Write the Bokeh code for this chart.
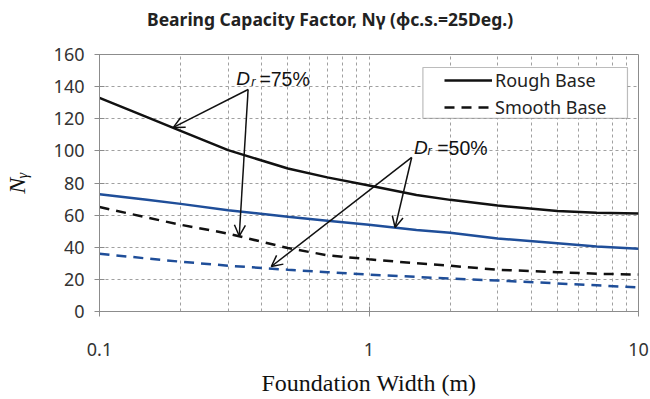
from bokeh.plotting import figure
from bokeh.layouts import column
from bokeh.models import (FixedTicker, Range1d, Legend, LegendItem, Label, Arrow,
                          OpenHead, BoxAnnotation, Div)
from bokeh.embed import file_html
from bokeh.resources import INLINE

# ---- data ----
width_m = [0.1, 0.15, 0.2, 0.3, 0.5, 0.7, 1, 1.5, 2, 3, 5, 7, 10]
rough_dr75 = [133, 121, 112.5, 100.5, 89, 83.5, 78.5, 72.5, 69.5, 66, 62.5, 61.5, 61]
rough_dr50 = [73, 69.5, 67, 63, 59, 56.5, 54, 50.8, 49, 45.5, 42.5, 40.5, 39]
smooth_dr75 = [65, 58.5, 54, 48.5, 39.5, 35, 32.5, 30, 28.5, 26, 24.5, 23.5, 23]
smooth_dr50 = [36, 33, 31, 28.5, 26, 24.5, 23, 21.5, 20.5, 19.3, 17.5, 16.3, 15]

x_ticks = [0.1, 1, 10]
x_tick_labels = ["0.1", "1", "10"]
x_minor = [0.2, 0.3, 0.4, 0.5, 0.6, 0.7, 0.8, 0.9, 2, 3, 4, 5, 6, 7, 8, 9]
y_ticks = [0, 20, 40, 60, 80, 100, 120, 140, 160]

title_text = "Bearing Capacity Factor, N\u03b3 (\u03d5c.s.=25Deg.)"
x_label = "Foundation Width (m)"
y_label = "N\u1d67"

BLACK = "#111111"
BLUE = "#1f4e99"
GRID = "#a0a0a0"
AXIS = "#8c8c8c"

title_div = Div(
    text=('<div style="font-family:\'Noto Sans\';font-weight:bold;font-size:17.5px;'
          'color:#222222;line-height:38px;height:38px;padding-left:147px;'
          'white-space:nowrap;">' + title_text + '</div>'),
    width=650, height=38, margin=0)

p = figure(width=650, height=361, x_axis_type="log",
           x_range=Range1d(0.1, 10), y_range=Range1d(0, 160),
           output_backend="svg", toolbar_location=None,
           min_border_left=97, min_border_right=12,
           min_border_top=16, min_border_bottom=88)
p.margin = 0
p.background_fill_color = "white"
p.border_fill_color = "white"
p.outline_line_color = AXIS
p.outline_line_width = 1

# axes
p.xaxis.ticker = FixedTicker(ticks=x_ticks, minor_ticks=x_minor)
p.xaxis.major_label_overrides = {t: l for t, l in zip(x_ticks, x_tick_labels)}
p.yaxis.ticker = FixedTicker(ticks=y_ticks)
for ax in (p.xaxis[0], p.yaxis[0]):
    ax.axis_line_color = AXIS
    ax.major_tick_line_color = AXIS
    ax.major_tick_in = 5
    ax.major_tick_out = 5
    ax.minor_tick_line_color = None
    ax.major_label_text_font = "Noto Sans"
    ax.major_label_text_font_size = "18px"
    ax.major_label_text_color = "#333333"
p.xaxis.major_label_standoff = 26
p.yaxis.major_label_standoff = 10
p.xaxis.axis_label = x_label
p.xaxis.axis_label_text_font = "Liberation Serif"
p.xaxis.axis_label_text_font_style = "normal"
p.xaxis.axis_label_text_font_size = "24px"
p.xaxis.axis_label_text_color = "#111111"
p.xaxis.axis_label_standoff = 11
p.yaxis.axis_label = y_label
p.yaxis.axis_label_text_font = "Liberation Serif"
p.yaxis.axis_label_text_font_style = "italic"
p.yaxis.axis_label_text_font_size = "24px"
p.yaxis.axis_label_text_color = "#111111"
p.yaxis.axis_label_standoff = 21

# grids
p.xgrid.grid_line_color = GRID
p.xgrid.grid_line_dash = "3 3"
p.xgrid.minor_grid_line_color = GRID
p.xgrid.minor_grid_line_dash = "3 3"
p.ygrid.grid_line_color = GRID
p.ygrid.grid_line_dash = "3 3"

# curves
r1 = p.line(width_m, rough_dr75, line_color=BLACK, line_width=2.5)
r2 = p.line(width_m, rough_dr50, line_color=BLUE, line_width=2.5)
r3 = p.line(width_m, smooth_dr75, line_color=BLACK, line_width=2.5, line_dash="10 7")
r4 = p.line(width_m, smooth_dr50, line_color=BLUE, line_width=2.5, line_dash="10 7")

# legend box
p.add_layout(BoxAnnotation(left=1.585, right=9.10, bottom=120.2, top=151.9,
                           fill_color="white", fill_alpha=1,
                           line_color="#222222", line_width=1.2, level="annotation"))
legend = Legend(items=[LegendItem(label="Rough Base", renderers=[r1]),
                       LegendItem(label="Smooth Base", renderers=[r3])],
                location=(345, 192), padding=0, spacing=3, margin=0,
                glyph_width=48, glyph_height=18, label_height=18,
                label_standoff=3, border_line_color=None,
                background_fill_alpha=0,
                label_text_font="Noto Sans", label_text_font_size="18px",
                label_text_color="#222222")
p.add_layout(legend, "center")

# annotations D_r
def add_dr(x_d, x_r, x_eq, y, text):
    p.add_layout(Label(x=x_d, y=y, text="D", text_font="Liberation Sans",
                       text_font_style="italic", text_font_size="19px",
                       text_color="#111111", text_baseline="alphabetic"))
    p.add_layout(Label(x=x_r, y=y - 2.0, text="r", text_font="Liberation Sans",
                       text_font_style="italic", text_font_size="13px",
                       text_color="#111111", text_baseline="alphabetic"))
    p.add_layout(Label(x=x_eq, y=y, text=text, text_font="Liberation Sans",
                       text_font_size="19.5px", text_color="#111111",
                       text_baseline="alphabetic"))

add_dr(0.322, 0.366, 0.392, 145, "=75%")
add_dr(1.468, 1.65, 1.79, 102, "=50%")

# arrows
def arrow(x0, y0, x1, y1):
    p.add_layout(Arrow(end=OpenHead(size=11, line_width=1.5, line_color="#111111"),
                       x_start=x0, y_start=y0, x_end=x1, y_end=y1,
                       line_width=1.5, line_color="#111111"))

arrow(0.356, 138.2, 0.188, 114.6)
arrow(0.356, 138.2, 0.330, 47.0)
arrow(1.44, 95.9, 1.25, 52.3)
arrow(1.44, 95.9, 0.434, 28.0)

layout = column(title_div, p, spacing=0, margin=0)
open("out.html", "w").write(file_html(layout, INLINE))
